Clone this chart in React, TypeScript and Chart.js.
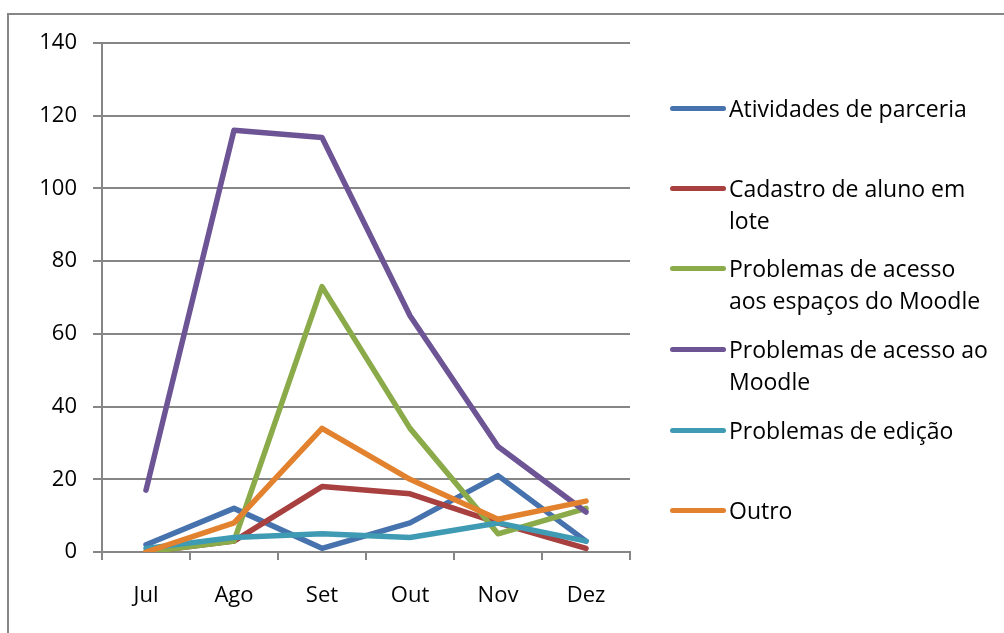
import React, { useEffect, useRef } from "react";
import { Chart, registerables } from "chart.js";

Chart.register(...registerables);

const months = ["Jul", "Ago", "Set", "Out", "Nov", "Dez"];
const seriesNames = [
  "Atividades de parceria",
  "Cadastro de aluno em\nlote",
  "Problemas de acesso\naos espaços do Moodle",
  "Problemas de acesso ao\nMoodle",
  "Problemas de edição",
  "Outro",
];
const atividades = [2, 12, 1, 8, 21, 3];
const cadastro = [0, 3, 18, 16, 8, 1];
const espacos = [0, 3, 73, 34, 5, 12];
const acessoMoodle = [17, 116, 114, 65, 29, 11];
const edicao = [1, 4, 5, 4, 8, 3];
const outro = [0, 8, 34, 20, 9, 14];
const yTicks = [0, 20, 40, 60, 80, 100, 120, 140];

const seriesValues = [atividades, cadastro, espacos, acessoMoodle, edicao, outro];
const colors = ["#4672AE", "#A8403F", "#8BAB4B", "#6D5495", "#3F9AB3", "#E2822F"];
const legendY = [108, 188, 268, 349, 430, 510];

const FONT = "'Open Sans', sans-serif";

export default function App() {
  const ref = useRef<HTMLCanvasElement | null>(null);

  useEffect(() => {
    if (!ref.current) return;
    const chart = new Chart(ref.current, {
      type: "line",
      data: {
        labels: months,
        datasets: seriesValues.map((vals, i) => ({
          label: seriesNames[i].replace("\n", " "),
          data: vals,
          borderColor: colors[i],
          backgroundColor: colors[i],
          borderWidth: 5.5,
          pointRadius: 0,
          tension: 0,
          borderJoinStyle: "round" as const,
          borderCapStyle: "round" as const,
          order: -i,
        })),
      },
      options: {
        responsive: false,
        animation: false,
        layout: { padding: { left: 22, right: 374, top: 43, bottom: 0 } },
        plugins: { legend: { display: false }, tooltip: { enabled: false } },
        scales: {
          x: {
            offset: true,
            grid: {
              offset: true,
              drawOnChartArea: false,
              drawTicks: true,
              tickLength: 8,
              color: "#868686",
              lineWidth: 2,
            },
            border: { color: "#868686", width: 2 },
            ticks: { color: "#000", font: { family: FONT, size: 22 }, padding: 23 },
            afterFit: (s: any) => {
              s.height = 81;
            },
          },
          y: {
            min: 0,
            max: 140,
            afterBuildTicks: (s: any) => {
              s.ticks = yTicks.map((v) => ({ value: v }));
            },
            grid: { color: "#868686", lineWidth: 2, tickLength: 9 },
            border: { color: "#868686", width: 2 },
            ticks: { color: "#000", font: { family: FONT, size: 22 }, padding: 16 },
            afterFit: (s: any) => {
              s.width = 80;
            },
          },
        },
      },
    });
    return () => chart.destroy();
  }, []);

  return (
    <div style={{ position: "fixed", left: 0, top: 0, width: 1004, height: 633, background: "#fff", overflow: "hidden" }}>
      <div
        style={{
          position: "absolute",
          left: 7,
          top: 13,
          width: 1100,
          height: 800,
          borderLeft: "2px solid #868686",
          borderTop: "2px solid #868686",
        }}
      />
      <canvas ref={ref} width={1004} height={633} style={{ position: "absolute", left: 0, top: 0 }} />
      {seriesNames.map((name, i) => (
        <div
          key={i}
          style={{
            position: "absolute",
            left: 670,
            top: legendY[i] - 16,
            display: "flex",
            alignItems: "flex-start",
            fontFamily: FONT,
            fontSize: 23,
            lineHeight: "32px",
            color: "#000",
            whiteSpace: "nowrap",
          }}
        >
          <div
            style={{
              width: 56,
              height: 5,
              borderRadius: 3,
              background: colors[i],
              marginTop: 14,
              marginRight: 3,
            }}
          />
          <div style={{ whiteSpace: "pre" }}>{name}</div>
        </div>
      ))}
    </div>
  );
}
